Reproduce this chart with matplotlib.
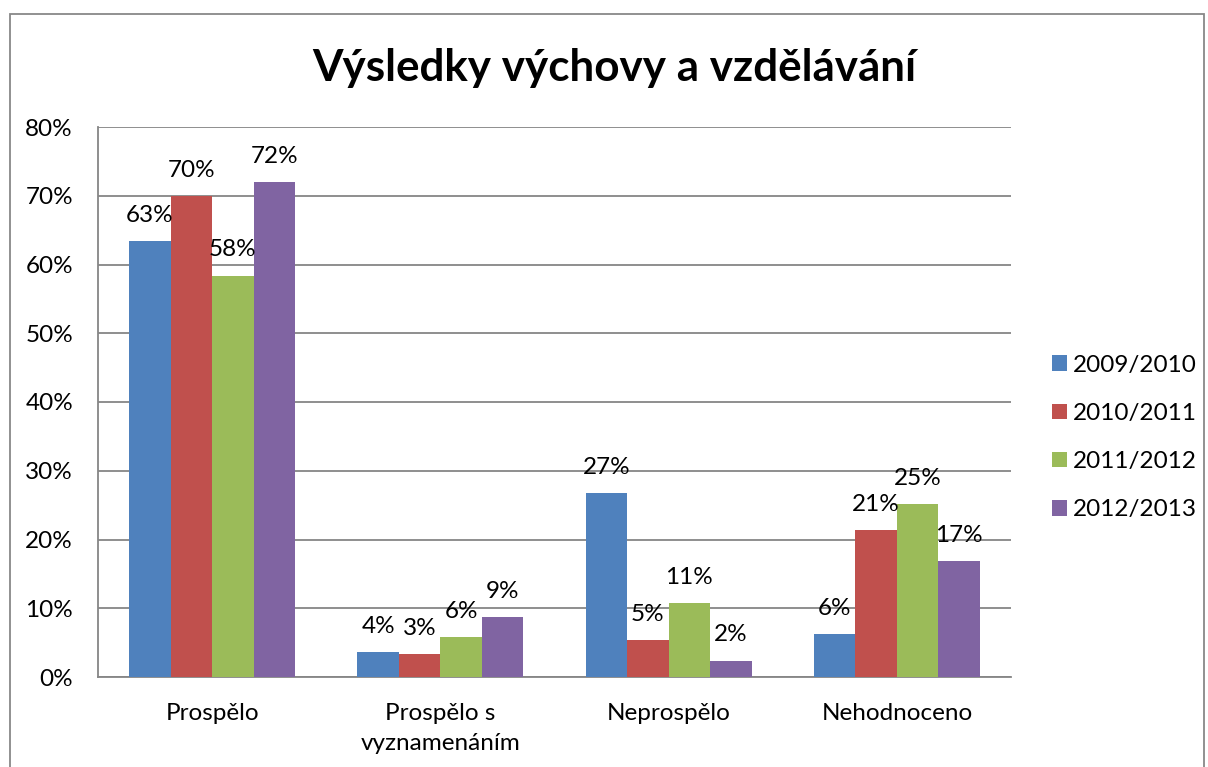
import matplotlib
matplotlib.use("Agg")
import matplotlib.pyplot as plt
from matplotlib.patches import Rectangle
import numpy as np

categories = ["Prospělo", "Prospělo s\nvyznamenáním", "Neprospělo", "Nehodnoceno"]
series_names = ["2009/2010", "2010/2011", "2011/2012", "2012/2013"]
v2009 = [63.4, 3.7, 26.8, 6.2]
v2010 = [69.9, 3.4, 5.4, 21.4]
v2011 = [58.4, 5.8, 10.8, 25.1]
v2012 = [72.0, 8.7, 2.4, 16.9]
series_values = [v2009, v2010, v2011, v2012]
colors = ["#4F81BD", "#C0504D", "#9BBB59", "#8064A2"]
yticks = [0, 10, 20, 30, 40, 50, 60, 70, 80]
title = "Výsledky výchovy a vzdělávání"

plt.rcParams['font.family'] = ['Lato', 'DejaVu Sans']
FS = 17.5

W, H = 1208, 767
fig = plt.figure(figsize=(W/100, H/100), dpi=100)
fig.patch.set_facecolor("white")

# outer chart border
fig.patches.append(Rectangle((10/W, -0.05), (1204-10)/W, (767-14)/H + 0.05,
                             transform=fig.transFigure, fill=False,
                             edgecolor="#888888", linewidth=1.3))

left, right, top, bottom = 98, 1011, 127, 677
ax = fig.add_axes([left/W, 1 - bottom/H, (right-left)/W, (bottom-top)/H])

x = np.arange(len(categories))
bw = 0.182
grid_color = "#868686"
for i, (name, vals) in enumerate(zip(series_names, series_values)):
    offs = (i - 1.5) * bw
    ax.bar(x + offs, vals, bw, color=colors[i], label=name, zorder=3,
           edgecolor="none")
    for xi, v in zip(x + offs, vals):
        ax.annotate(f"{round(v):d}%", (xi, v), xytext=(0, 13.7),
                    textcoords="offset points", ha="center", va="baseline",
                    fontsize=FS, zorder=4)

ax.set_xlim(-0.5, len(categories) - 0.5)
ax.set_ylim(0, 80)
ax.set_yticks(yticks)
ax.set_yticklabels([f"{t}%" for t in yticks], fontsize=FS)
ax.set_xticks(x)
ax.set_xticklabels(categories, fontsize=FS, linespacing=1.5)
ax.tick_params(axis="both", length=0)
ax.tick_params(axis="y", pad=18)
ax.tick_params(axis="x", pad=19)
ax.yaxis.grid(True, color=grid_color, linewidth=1.3, zorder=0)
ax.set_axisbelow(True)
for s in ["top", "right"]:
    ax.spines[s].set_visible(False)
for s in ["left", "bottom"]:
    ax.spines[s].set_color(grid_color)
    ax.spines[s].set_linewidth(1.3)

fig.text(614/W, 1 - 68/H, title, ha="center", va="center",
         fontsize=31.7, fontweight="bold")

leg = fig.legend(loc="upper left", bbox_to_anchor=(1042/W, 1 - 345/H),
                 frameon=False, fontsize=FS, handlelength=0.62, handleheight=0.62,
                 handletextpad=0.25, labelspacing=1.12, borderaxespad=0)

fig.savefig("out.png", dpi=100)
